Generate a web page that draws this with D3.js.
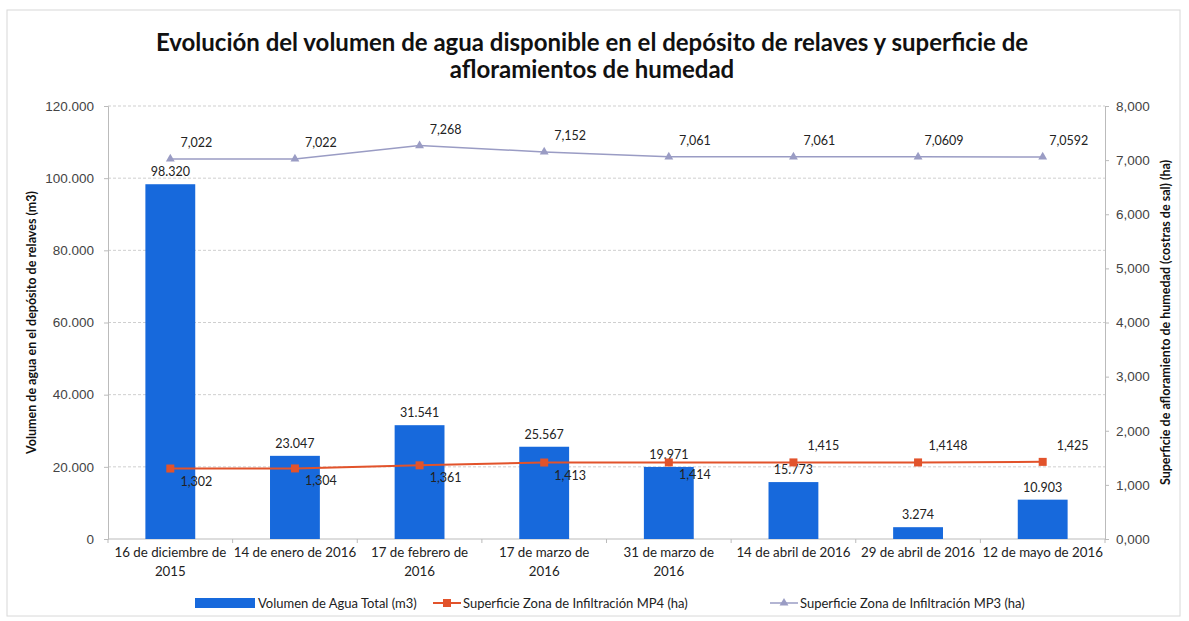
<!DOCTYPE html>
<html>
<head>
<meta charset="utf-8">
<script src="https://cdn.jsdelivr.net/npm/d3@7"></script>
<style>
  body { margin: 0; background: #fff; }
  svg { font-family: Lato, "Open Sans", sans-serif; }
</style>
</head>
<body>
<svg class="chart" width="1189" height="621"></svg>
<script>
const categories = [
  "16 de diciembre de\n2015",
  "14 de enero de 2016",
  "17 de febrero de\n2016",
  "17 de marzo de\n2016",
  "31 de marzo de\n2016",
  "14 de abril de 2016",
  "29 de abril de 2016",
  "12 de mayo de 2016"
];
const volumen = [98320, 23047, 31541, 25567, 19971, 15773, 3274, 10903];
const mp4 = [1.302, 1.304, 1.361, 1.413, 1.414, 1.415, 1.4148, 1.425];
const mp3 = [7.022, 7.022, 7.268, 7.152, 7.061, 7.061, 7.0609, 7.0592];
const leftTicks = [0, 20000, 40000, 60000, 80000, 100000, 120000];
const rightTicks = [0, 1, 2, 3, 4, 5, 6, 7, 8];

(() => {
  const svg = d3.select(".chart");
  const width = +svg.attr("width");
  const margin = { top: 106, right: 84, bottom: 82, left: 108 };
  const x0 = margin.left, x1 = width - margin.right;
  const y0 = 539, y1 = margin.top;

  const es = d3.formatLocale({ decimal: ",", thousands: ".", grouping: [3], currency: ["", ""] });
  const fmtVol = es.format(",d");
  const fmtRight = es.format(".3f");
  const fmtHa = (v) => String(v).replace(".", ",");

  const blue = "#1769dc";
  const red = "#e2532b";
  const lilac = "#9a9cc4";

  // frame
  svg.append("rect")
    .attr("x", 7).attr("y", 10).attr("width", width - 16).attr("height", 606)
    .attr("fill", "none").attr("stroke", "#d8d8d8");

  const x = d3.scaleBand().domain(d3.range(categories.length)).range([x0, x1]).paddingInner(0.6).paddingOuter(0.3);
  const xc = (i) => x(i) + x.bandwidth() / 2;
  const yL = d3.scaleLinear().domain([0, 120000]).range([y0, y1]);
  const yR = d3.scaleLinear().domain([0, 8]).range([y0, y1]);

  // title
  svg.append("text")
    .attr("x", 592).attr("y", 51)
    .attr("text-anchor", "middle")
    .style("font-size", "24px").style("font-weight", "bold").attr("fill", "#111")
    .selectAll("tspan")
    .data(["Evolución del volumen de agua disponible en el depósito de relaves y superficie de", "afloramientos de humedad"])
    .join("tspan")
    .attr("x", 592).attr("dy", (d, i) => (i ? 27 : 0))
    .text((d) => d);

  // grid
  svg.append("g")
    .selectAll("line")
    .data(leftTicks.slice(1))
    .join("line")
    .attr("x1", x0).attr("x2", x1)
    .attr("y1", (d) => yL(d)).attr("y2", (d) => yL(d))
    .attr("stroke", "#cfcfcf").attr("stroke-dasharray", "3,2");

  // left axis
  const axL = svg.append("g")
    .attr("transform", `translate(${x0},0)`)
    .call(d3.axisLeft(yL).tickValues(leftTicks).tickFormat((d) => (d === 0 ? "0" : fmtVol(d))).tickSize(4).tickPadding(10));
  axL.selectAll("text").style("font-size", "13.5px").attr("fill", "#444");

  // right axis
  const axR = svg.append("g")
    .attr("transform", `translate(${x1},0)`)
    .call(d3.axisRight(yR).tickValues(rightTicks).tickFormat(fmtRight).tickSize(4).tickPadding(7));
  axR.selectAll("text").style("font-size", "13.5px").attr("fill", "#444");

  [axL, axR].forEach((a) => {
    a.select(".domain").attr("stroke", "#bbb");
    a.selectAll(".tick line").attr("stroke", "#bbb");
  });

  // x axis
  svg.append("line")
    .attr("x1", x0).attr("x2", x1).attr("y1", y0).attr("y2", y0)
    .attr("stroke", "#bbb");
  svg.append("g")
    .selectAll("line")
    .data(d3.range(categories.length + 1))
    .join("line")
    .attr("x1", (i) => x0 + i * ((x1 - x0) / categories.length))
    .attr("x2", (i) => x0 + i * ((x1 - x0) / categories.length))
    .attr("y1", y0).attr("y2", y0 + 4)
    .attr("stroke", "#bbb");

  svg.append("g")
    .selectAll("text")
    .data(categories)
    .join("text")
    .attr("text-anchor", "middle")
    .attr("y", y0 + 18)
    .style("font-size", "13.3px").attr("fill", "#222")
    .each(function (d, i) {
      d3.select(this).selectAll("tspan")
        .data(d.split("\n"))
        .join("tspan")
        .attr("x", xc(i))
        .attr("dy", (t, j) => (j ? 19 : 0))
        .text((t) => t);
    });

  // axis titles
  svg.append("text")
    .attr("transform", `translate(36,${(y0 + y1) / 2}) rotate(-90)`)
    .attr("text-anchor", "middle")
    .style("font-size", "12.5px").style("font-weight", "bold").attr("fill", "#111")
    .text("Volumen de agua en el depósito de relaves (m3)");
  svg.append("text")
    .attr("transform", `translate(1170,${(y0 + y1) / 2}) rotate(-90)`)
    .attr("text-anchor", "middle")
    .style("font-size", "12.5px").style("font-weight", "bold").attr("fill", "#111")
    .text("Superficie de afloramiento de humedad (costras de sal) (ha)");

  // bars
  svg.append("g")
    .selectAll("rect")
    .data(volumen)
    .join("rect")
    .attr("x", (d, i) => x(i))
    .attr("width", x.bandwidth())
    .attr("y", (d) => yL(d))
    .attr("height", (d) => y0 - yL(d))
    .attr("fill", blue);

  svg.append("g")
    .selectAll("text")
    .data(volumen)
    .join("text")
    .attr("x", (d, i) => xc(i))
    .attr("y", (d) => yL(d) - 8)
    .attr("text-anchor", "middle")
    .style("font-size", "12.5px").attr("fill", "#222")
    .text((d) => fmtVol(d));

  const line = (scale) => d3.line().x((d, i) => xc(i)).y((d) => scale(d));

  // MP4 line
  svg.append("path")
    .datum(mp4)
    .attr("d", line(yR))
    .attr("fill", "none").attr("stroke", red).attr("stroke-width", 2);
  svg.append("g")
    .selectAll("rect")
    .data(mp4)
    .join("rect")
    .attr("x", (d, i) => xc(i) - 4).attr("y", (d) => yR(d) - 4)
    .attr("width", 8).attr("height", 8)
    .attr("fill", red);
  const below = (i) => i < 5;
  svg.append("g")
    .selectAll("text")
    .data(mp4)
    .join("text")
    .attr("x", (d, i) => xc(i) + (below(i) ? 26 : 30))
    .attr("y", (d, i) => (below(i) ? yR(d) + 17 : yR(d) - 12))
    .attr("text-anchor", "middle")
    .style("font-size", "12.5px").attr("fill", "#222")
    .text((d) => fmtHa(d));

  // MP3 line
  svg.append("path")
    .datum(mp3)
    .attr("d", line(yR))
    .attr("fill", "none").attr("stroke", lilac).attr("stroke-width", 1.5);
  const tri = d3.symbol().type(d3.symbolTriangle).size(34);
  svg.append("g")
    .selectAll("path")
    .data(mp3)
    .join("path")
    .attr("transform", (d, i) => `translate(${xc(i)},${yR(d)})`)
    .attr("d", tri)
    .attr("fill", lilac);
  svg.append("g")
    .selectAll("text")
    .data(mp3)
    .join("text")
    .attr("x", (d, i) => xc(i) + 26)
    .attr("y", (d) => yR(d) - 12)
    .attr("text-anchor", "middle")
    .style("font-size", "12.5px").attr("fill", "#222")
    .text((d) => fmtHa(d));

  // legend
  const lg = svg.append("g").attr("transform", "translate(0,603)");
  const lgFont = "13px";
  lg.append("rect").attr("x", 195).attr("y", -5).attr("width", 60).attr("height", 10).attr("fill", blue);
  lg.append("text").attr("x", 258).attr("y", 5).style("font-size", lgFont).attr("fill", "#222").text("Volumen de Agua Total (m3)");

  lg.append("line").attr("x1", 433).attr("x2", 461).attr("y1", 0).attr("y2", 0).attr("stroke", red).attr("stroke-width", 2);
  lg.append("rect").attr("x", 443).attr("y", -4).attr("width", 8).attr("height", 8).attr("fill", red);
  lg.append("text").attr("x", 463).attr("y", 5).style("font-size", lgFont).attr("fill", "#222").text("Superficie Zona de Infiltración MP4 (ha)");

  lg.append("line").attr("x1", 770).attr("x2", 798).attr("y1", 0).attr("y2", 0).attr("stroke", lilac).attr("stroke-width", 1.5);
  lg.append("path").attr("transform", "translate(784,0)").attr("d", tri).attr("fill", lilac);
  lg.append("text").attr("x", 800).attr("y", 5).style("font-size", lgFont).attr("fill", "#222").text("Superficie Zona de Infiltración MP3 (ha)");
})();
</script>
</body>
</html>
